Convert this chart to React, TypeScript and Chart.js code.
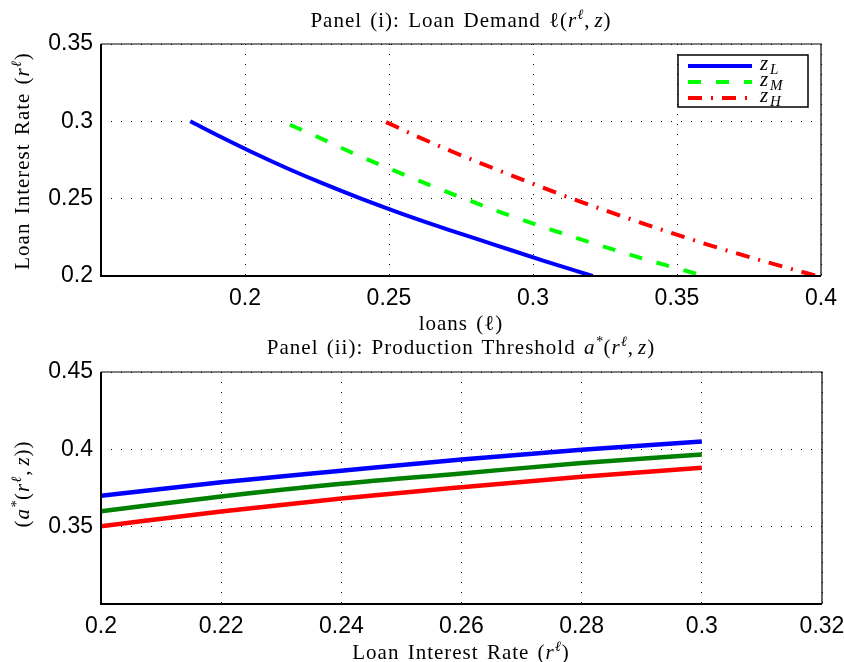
import React, { useEffect, useRef } from 'react';
import { Chart, registerables } from 'chart.js';

Chart.register(...registerables);

// ---------- Panel (i): loan demand ----------
const ratesZL = [0.30, 0.29, 0.28, 0.27, 0.26, 0.25, 0.24, 0.23, 0.22, 0.21, 0.20];
const loansZL = [0.181, 0.1915, 0.2025, 0.2142, 0.2268, 0.2403, 0.2548, 0.2705, 0.287, 0.3035, 0.3207];
const ratesZM = [0.2978, 0.29, 0.28, 0.27, 0.26, 0.25, 0.24, 0.23, 0.22, 0.21, 0.20];
const loansZM = [0.2156, 0.2251, 0.2368, 0.2494, 0.2625, 0.2762, 0.2906, 0.3062, 0.3229, 0.3405, 0.3596];
const ratesZH = [0.2995, 0.29, 0.28, 0.27, 0.26, 0.25, 0.24, 0.23, 0.22, 0.21, 0.20];
const loansZH = [0.249, 0.2601, 0.2725, 0.2858, 0.2994, 0.3136, 0.3288, 0.3446, 0.3612, 0.3793, 0.3986];

const p1XTicks = [0.2, 0.25, 0.3, 0.35, 0.4];
const p1XTickLabels = ['0.2', '0.25', '0.3', '0.35', '0.4'];
const p1YTicks = [0.2, 0.25, 0.3, 0.35];
const p1YTickLabels = ['0.2', '0.25', '0.3', '0.35'];

// ---------- Panel (ii): production threshold ----------
const rates2 = [0.20, 0.22, 0.24, 0.26, 0.28, 0.30];
const thresholdZL = [0.370, 0.3787, 0.3862, 0.3935, 0.3997, 0.405];
const thresholdZM = [0.360, 0.3695, 0.3777, 0.3844, 0.3912, 0.3967];
const thresholdZH = [0.3503, 0.3598, 0.3682, 0.3755, 0.3823, 0.3881];

const p2XTicks = [0.2, 0.22, 0.24, 0.26, 0.28, 0.3, 0.32];
const p2XTickLabels = ['0.2', '0.22', '0.24', '0.26', '0.28', '0.3', '0.32'];
const p2YTicks = [0.35, 0.4, 0.45];
const p2YTickLabels = ['0.35', '0.4', '0.45'];

const legendLabels = ['L', 'M', 'H'];

const TICK_FONT = { family: '"Liberation Sans", Arial, Helvetica, sans-serif', size: 23 };
const SERIF = '"Liberation Serif", "Times New Roman", serif';

function zip(xs: number[], ys: number[]) {
  return xs.map((x, i) => ({ x, y: ys[i] }));
}

const framePlugin = {
  id: 'frame',
  afterDraw(chart: any) {
    const { ctx, chartArea: a } = chart;
    ctx.save();
    ctx.strokeStyle = '#000';
    ctx.lineWidth = 1.2;
    ctx.beginPath();
    ctx.moveTo(a.left, a.top);
    ctx.lineTo(a.right, a.top);
    ctx.lineTo(a.right, a.bottom);
    ctx.stroke();
    ctx.lineWidth = 2;
    ctx.beginPath();
    ctx.moveTo(a.left, a.top);
    ctx.lineTo(a.left, a.bottom);
    ctx.lineTo(a.right, a.bottom);
    ctx.stroke();
    ctx.restore();
  },
};

const legendPlugin = {
  id: 'mlegend',
  afterDraw(chart: any, _args: any, opts: any) {
    if (!opts || !opts.show) return;
    const { ctx } = chart;
    const x0 = 678, y0 = 55, w = 130, h = 52;
    ctx.save();
    ctx.fillStyle = '#fff';
    ctx.fillRect(x0, y0, w, h);
    ctx.strokeStyle = '#000';
    ctx.lineWidth = 1.5;
    ctx.strokeRect(x0, y0, w, h);
    chart.data.datasets.forEach((ds: any, i: number) => {
      const y = y0 + 11 + i * 16;
      ctx.strokeStyle = ds.borderColor;
      ctx.lineWidth = ds.borderWidth;
      ctx.setLineDash(ds.borderDash || []);
      ctx.beginPath();
      ctx.moveTo(x0 + 10, y);
      ctx.lineTo(x0 + 74, y);
      ctx.stroke();
      ctx.setLineDash([]);
      ctx.fillStyle = '#000';
      ctx.textBaseline = 'alphabetic';
      ctx.font = `italic 21px ${SERIF}`;
      ctx.fillText('z', x0 + 82, y + 4);
      ctx.font = `italic 15px ${SERIF}`;
      ctx.fillText(legendLabels[i], x0 + 92, y + 8);
    });
    ctx.restore();
  },
};

function makeScale(min: number, max: number, ticks: number[], labels: string[], size: number, axis: 'x' | 'y') {
  return {
    type: 'linear',
    min,
    max,
    afterBuildTicks: (s: any) => {
      s.ticks = ticks.map((v) => ({ value: v }));
    },
    afterFit: (s: any) => {
      if (axis === 'x') {
        s.height = size;
        s.paddingLeft = 0;
        s.paddingRight = 0;
      } else {
        s.width = size;
        s.paddingTop = 0;
        s.paddingBottom = 0;
      }
    },
    ticks: {
      color: '#000',
      font: TICK_FONT,
      padding: axis === 'x' ? 9 : 8,
      autoSkip: false,
      maxRotation: 0,
      callback: (v: number) => {
        const i = ticks.findIndex((t) => Math.abs(t - v) < 1e-9);
        return i >= 0 ? labels[i] : '';
      },
    },
    grid: {
      color: '#000',
      lineWidth: 1,
      drawTicks: false,
    },
    border: { display: false, dash: [1, 9] },
  };
}

function Panel1() {
  const ref = useRef<HTMLCanvasElement>(null);
  useEffect(() => {
    const chart = new Chart(ref.current!, {
      type: 'line',
      data: {
        datasets: [
          { label: 'zL', data: zip(loansZL, ratesZL), borderColor: '#0000ff', borderWidth: 4, pointRadius: 0, cubicInterpolationMode: 'monotone', fill: false },
          { label: 'zM', data: zip(loansZM, ratesZM), borderColor: '#00ff00', borderWidth: 4, borderDash: [13, 15], pointRadius: 0, cubicInterpolationMode: 'monotone', fill: false },
          { label: 'zH', data: zip(loansZH, ratesZH), borderColor: '#ff0000', borderWidth: 4, borderDash: [14, 9, 2, 9], pointRadius: 0, cubicInterpolationMode: 'monotone', fill: false },
        ],
      } as any,
      options: {
        animation: false,
        responsive: false,
        maintainAspectRatio: false,
        layout: { padding: { top: 44, right: 23, left: 0, bottom: 0 } },
        plugins: { legend: { display: false }, tooltip: { enabled: false }, mlegend: { show: true } } as any,
        scales: {
          x: makeScale(0.15, 0.4, p1XTicks, p1XTickLabels, 54, 'x'),
          y: makeScale(0.2, 0.35, p1YTicks, p1YTickLabels, 101, 'y'),
        } as any,
      },
      plugins: [framePlugin, legendPlugin],
    });
    return () => chart.destroy();
  }, []);
  return <canvas ref={ref} width={844} height={330} style={{ position: 'absolute', left: 0, top: 0, width: 844, height: 330 }} />;
}

function Panel2() {
  const ref = useRef<HTMLCanvasElement>(null);
  useEffect(() => {
    const chart = new Chart(ref.current!, {
      type: 'line',
      data: {
        datasets: [
          { label: 'zL', data: zip(rates2, thresholdZL), borderColor: '#0000ff', borderWidth: 4.5, pointRadius: 0, cubicInterpolationMode: 'monotone', fill: false },
          { label: 'zM', data: zip(rates2, thresholdZM), borderColor: '#008000', borderWidth: 4.5, pointRadius: 0, cubicInterpolationMode: 'monotone', fill: false },
          { label: 'zH', data: zip(rates2, thresholdZH), borderColor: '#ff0000', borderWidth: 4.5, pointRadius: 0, cubicInterpolationMode: 'monotone', fill: false },
        ],
      } as any,
      options: {
        animation: false,
        responsive: false,
        maintainAspectRatio: false,
        layout: { padding: { top: 42, right: 22, left: 0, bottom: 0 } },
        plugins: { legend: { display: false }, tooltip: { enabled: false }, mlegend: { show: false } } as any,
        scales: {
          x: makeScale(0.2, 0.32, p2XTicks, p2XTickLabels, 58, 'x'),
          y: makeScale(0.3, 0.45, p2YTicks, p2YTickLabels, 101, 'y'),
        } as any,
      },
      plugins: [framePlugin, legendPlugin],
    });
    return () => chart.destroy();
  }, []);
  return <canvas ref={ref} width={844} height={332} style={{ position: 'absolute', left: 0, top: 330, width: 844, height: 332 }} />;
}

const labelBase: React.CSSProperties = {
  position: 'absolute',
  fontFamily: SERIF,
  fontSize: 21,
  letterSpacing: '1px',
  wordSpacing: '2px',
  color: '#000',
  whiteSpace: 'nowrap',
  lineHeight: 1,
  transform: 'translate(-50%, -50%)',
};
const sup: React.CSSProperties = { fontSize: '0.68em', verticalAlign: '0.5em', fontStyle: 'italic' };

function Label({ x, y, rotate, children }: { x: number; y: number; rotate?: boolean; children: React.ReactNode }) {
  return (
    <div style={{ ...labelBase, left: x, top: y, transform: rotate ? 'translate(-50%, -50%) rotate(-90deg)' : labelBase.transform }}>
      {children}
    </div>
  );
}

export default function App() {
  return (
    <div style={{ position: 'absolute', left: 0, top: 0, width: 844, height: 662, background: '#fff', overflow: 'hidden' }}>
      <Panel1 />
      <Panel2 />
      <Label x={461} y={19}>
        Panel (i): Loan Demand ℓ(<i>r</i><span style={sup}>ℓ</span>,<span style={{ marginLeft: 4 }} /><i>z</i>)
      </Label>
      <Label x={461} y={323}>loans (ℓ)</Label>
      <Label x={21} y={161} rotate>
        Loan Interest Rate (<i>r</i><span style={sup}>ℓ</span>)
      </Label>
      <Label x={461} y={346}>
        Panel (ii): Production Threshold <i>a</i><span style={sup}>*</span>(<i>r</i><span style={sup}>ℓ</span>,<span style={{ marginLeft: 4 }} /><i>z</i>)
      </Label>
      <Label x={21} y={484} rotate>
        (<i>a</i><span style={sup}>*</span>(<i>r</i><span style={sup}>ℓ</span>,<span style={{ marginLeft: 4 }} /><i>z</i>))
      </Label>
      <Label x={461} y={651}>
        Loan Interest Rate (<i>r</i><span style={sup}>ℓ</span>)
      </Label>
    </div>
  );
}
